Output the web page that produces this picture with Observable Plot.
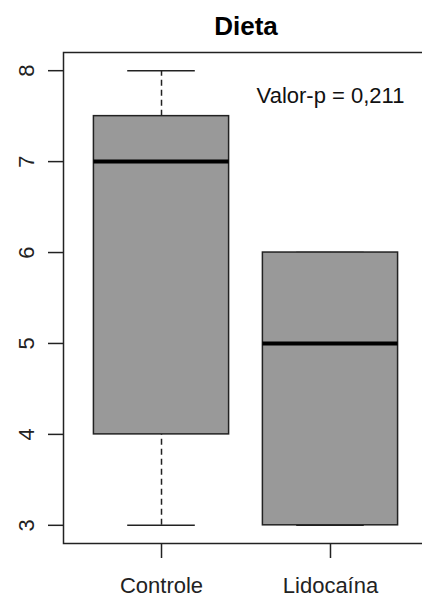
<!DOCTYPE html>
<html>
<head>
<meta charset="utf-8">
<script src="https://cdn.jsdelivr.net/npm/d3@7"></script>
<script src="https://cdn.jsdelivr.net/npm/@observablehq/plot@0.6"></script>
<style>
  html, body { margin: 0; padding: 0; background: #fff; overflow: hidden; }
  #chart svg { overflow: hidden; }
</style>
</head>
<body>
<div id="chart"></div>
<script>
const title = "Dieta";
const groups = ["Controle", "Lidocaína"];
const minV = [3, 3];
const q1V = [4, 3];
const medV = [7, 5];
const q3V = [7.5, 6];
const maxV = [8, 6];
const yTicks = [3, 4, 5, 6, 7, 8];
const annotation = "Valor-p = 0,211";
const annotationPos = {x: 2, y: 7.72};

const data = groups.map((g, i) => ({
  g, pos: i + 1, min: minV[i], q1: q1V[i], med: medV[i], q3: q3V[i], max: maxV[i]
}));

const boxHalf = 0.4, capHalf = 0.2;
const ink = "#222";
const font = "'Liberation Sans', Arial, sans-serif";

const chart = Plot.plot({
  width: 422,
  height: 597,
  marginLeft: 63,
  marginTop: 52,
  marginBottom: 54,
  marginRight: -6,
  style: {fontFamily: font, background: "#fff", color: ink},
  x: {type: "linear", domain: [0.42, 2.58]},
  y: {domain: [2.8, 8.2]},
  marks: [
    Plot.ruleX(data, {x: "pos", y1: "q3", y2: "max", stroke: ink, strokeWidth: 1.5, strokeDasharray: "6,4"}),
    Plot.ruleX(data, {x: "pos", y1: "min", y2: "q1", stroke: ink, strokeWidth: 1.5, strokeDasharray: "6,4"}),
    Plot.ruleY(data, {y: "max", x1: d => d.pos - capHalf, x2: d => d.pos + capHalf, stroke: ink, strokeWidth: 1.5}),
    Plot.ruleY(data, {y: "min", x1: d => d.pos - capHalf, x2: d => d.pos + capHalf, stroke: ink, strokeWidth: 1.5}),
    Plot.rect(data, {x1: d => d.pos - boxHalf, x2: d => d.pos + boxHalf, y1: "q1", y2: "q3", fill: "#999999", stroke: ink, strokeWidth: 1.5}),
    Plot.ruleY(data, {y: "med", x1: d => d.pos - boxHalf, x2: d => d.pos + boxHalf, stroke: "#000", strokeWidth: 4}),
    Plot.frame({stroke: ink, strokeWidth: 1.5}),
    Plot.axisY({ticks: yTicks, tickFormat: d => String(d), tickSize: 15, tickRotate: -90, tickPadding: 15, label: null, fontSize: 22, stroke: ink, strokeWidth: 1.5}),
    Plot.axisX({ticks: [1, 2], tickFormat: d => groups[d - 1], tickSize: 15, tickPadding: 19, label: null, fontSize: 22, stroke: ink, strokeWidth: 1.5}),
    Plot.text([annotation], {x: annotationPos.x, y: annotationPos.y, text: d => d, fontSize: 22, fill: "#111"}),
    Plot.text([title], {frameAnchor: "top", lineAnchor: "middle", dy: -26, text: d => d, fontSize: 26, fontWeight: "bold", fill: "#000"})
  ]
});
document.getElementById("chart").appendChild(chart);
</script>
</body>
</html>
